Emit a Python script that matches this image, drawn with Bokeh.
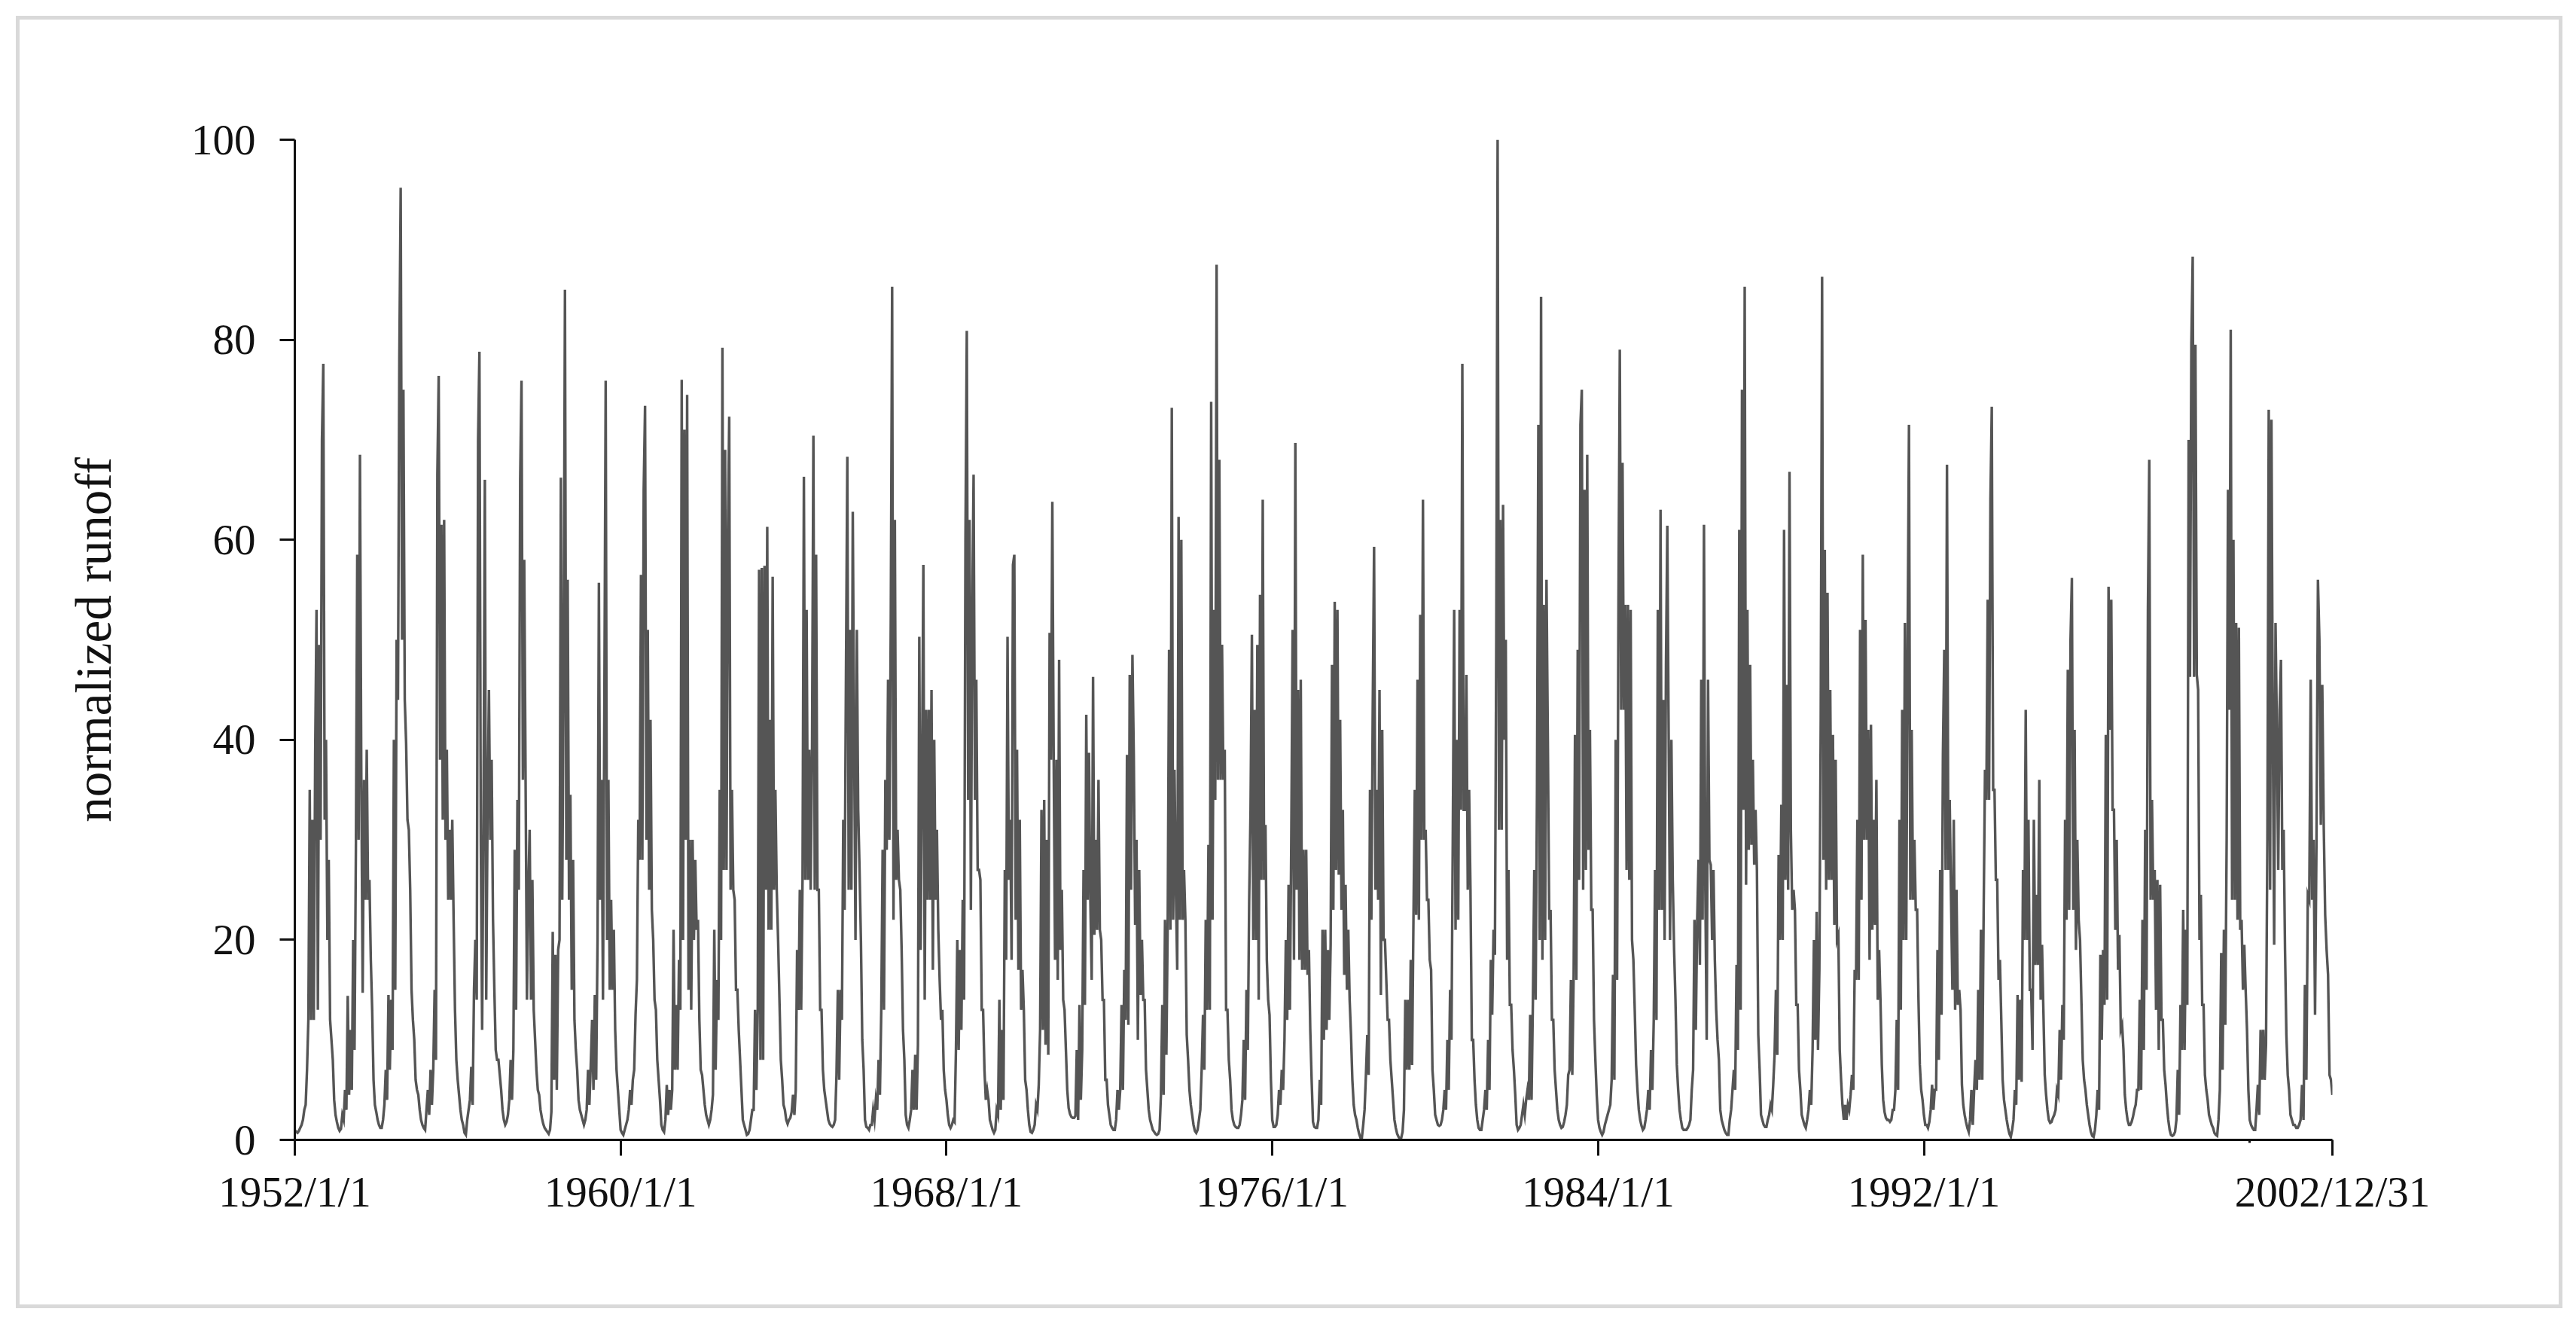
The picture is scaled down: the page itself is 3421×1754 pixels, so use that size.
from bokeh.embed import file_html
from bokeh.resources import INLINE
from bokeh.plotting import figure
from bokeh.models import Range1d, FixedTicker

Y_LABEL = "normalized runoff"
Y_TICKS = [0, 20, 40, 60, 80, 100]
X_TICK_LABELS = {1952: "1952/1/1", 1960: "1960/1/1", 1968: "1968/1/1", 1976: "1976/1/1",
                 1984: "1984/1/1", 1992: "1992/1/1", 2002.03: "2002/12/31"}
X_MINOR = [2000]
X_END = 2002.03

r1952 = [1.0,0.8,0.7,0.9,1.2,1.5,2,3,3.5,7,12,35,12,32,12,38.5,53,13,49.5,30,70,77.6,32,40,20,28,12,10,8,4]
r1953 = [2.5,1.8,1.2,0.9,1.1,2.5,2,5,3,14.4,4.5,11,5,20,9,29,58.5,30,68.5,36,14.7,36,24,39,24,26,18,13,6,3.5]
r1954 = [2.8,2,1.5,1.2,1.2,2,3.5,7,4,14.5,7,14,9,40,15,50,44,78.2,95.2,50,75,44,39.7,32,31,25,15,12,10,6]
r1955 = [5,4.5,3,2,1.5,1.2,1,3,5,2.5,7,3.5,7,15,8,66.5,76.4,38,61.5,32,62,30,39,24,31,24,32,22,13,8]
r1956 = [6,4.5,3,2,1.5,0.7,0.5,2,3,4,7.3,3.5,15,20,14,70,78.8,30,11,33,66,14,33,45,30,38,22,15,9,8]
r1957 = [8,6.5,5,3,2,1.5,1.8,2.5,4,8,4,9,29,13,34,25,66,75.9,36,58,36,14,25,31,14,26,13,10,7,5]
r1958 = [4.5,3,2.2,1.6,1.2,1,0.8,0.6,1,2.8,20.8,6,18.5,5,19,20,66.2,24,46,85,28,56,24,34.5,15,28,12,9,7,4]
r1959 = [3,2.5,2,1.5,2,3,7,3.5,7.5,12,5,14.5,6,20,55.7,24,36,14,43,75.9,20,36,15,24,15,21,11,7,5,3]
r1960 = [1,0.7,0.5,1,1.5,2,3,5,3.5,6,7,12.5,16,32,28,56.5,28,65,73.4,30,51,25,42,23,20,14,13,8,6,4]
r1961 = [1.5,1,0.8,2,5.5,2.5,5,3,5,21,7,13.5,7,18,13,76,20,71,30,74.5,15,30,13,30,20,28,21,22,12,7]
r1962 = [6.5,5,3.5,2.5,2,1.5,2,3,4.5,21,7,16,12,35,20,79.2,27,69,27,60,72.3,25,35,25,24,15,15,11,8,5]
r1963 = [2,1.5,1,0.5,0.6,1,2,3,3,13,5,13,57,8,57.2,8,57.4,25,61.3,21,42,21,56.3,25,35,25,20,14,8,6]
r1964 = [3.5,3,2,1.6,2,2.2,2.8,4.5,2.5,5,19,13,25,13,26,66.3,26,53,26,39,25,39,70.4,25,58.5,25,25,13,13,7]
r1965 = [5,4,3,2,1.6,1.4,1.3,1.5,2,6.5,15,6,15,12,32,23,47,68.3,25,51,25,62.8,40,20,51,33,27,20,10,7]
r1966 = [2,1.3,1.2,1,1.5,1.5,3,2,4,3,8,4.5,13,29,13,36,29,46,30,52,85.3,22,62,26,31,26,25,19,11,8]
r1967 = [2.5,1.5,1.2,2,3,7,3,8.5,3,9.5,50.3,19,36,57.5,14,43,24,43,24,45,17,40,24,31,21,16,12,13,7,5]
r1968 = [4,2.5,1.5,1.2,1.5,2,1.8,9,20,9,19,11,24,14,60,80.9,34,62,23,53,66.5,34,46,27,27,26,13,13,7,4]
r1969 = [5,4,2,1.5,1,0.7,1,3,2.5,14,3,11,4,27,18,50.3,26,32,18,57.5,58.5,22,39,17,32,13,17,13,6,5]
r1970 = [3,1.5,0.8,0.7,1,1.5,3.5,3,5.5,11,33,11,34,9.5,30,8.5,50.7,38,63.8,38,18,38,16,48,19,25,14,13,9,5]
r1971 = [3.2,2.6,2.3,2.2,2.2,2.4,9,2,13.5,4,9,27,13.5,42.5,24,38.7,24,16,46.3,20.5,30,21,36,21,20,14,14,6,6,3.5]
r1972 = [2.5,1.5,1.2,1,1,2,5,3,5,13.5,5,17,12,38.5,11.5,46.5,25,48.5,38.5,21.5,30,10,27,14.5,20,14,14,7,5,3]
r1973 = [2,1.5,1,0.8,0.6,0.5,0.6,1,4.5,13.5,4.5,22,8.5,22,49,21,73.2,22,37,25,17,62.3,22,60,22,27,22,10.5,8,5]
r1974 = [3.5,2.5,1.5,0.9,0.7,1,2,3,7,12.5,7,22,13,29.5,13,73.8,22,53,34,87.5,36,68,36,49.5,36,39,13,13,8,6]
r1975 = [3,2,1.5,1.3,1.2,1.2,1.5,2.5,4,10,4,15,9,24,33,50.5,20,43,20,49.5,14,54.5,26,64,26,31.5,18,14,12.5,6]
r1976 = [2,1.3,1.3,1.5,2.5,5,3.5,7,5,10,20,12,25.5,13,30,51,18,69.7,25,45,18,46,17,29,17,29,16.5,19,11,6]
r1977 = [1.8,1.3,1.2,1.2,2,6,3.5,21,10,21,11,19,12,19.5,47.5,23,53.8,27,53,26.5,42,23,33,16.5,25.5,15,21,14,10.5,6]
r1978 = [3.5,2.5,2,1.2,0.6,0.2,0.2,1.5,3,6.5,10.5,6.5,35,22,43,59.3,25,35,24,45,14.5,41,20,20,16,12,12,8,6,4]
r1979 = [2,1.2,0.6,0.3,0.1,0.2,0.8,3,14,7,14,7,18,7.5,22,35,22.5,46,22,52.5,30,64,30,31,24,24,18,17,7,5]
r1980 = [2.5,2,1.5,1.4,1.5,2,3,5,3,10,5,15,10,31,53,21,40,22,53,33,77.6,33,33,46.5,25,35,25,10,10,6]
r1981 = [3.5,2,1.2,1,1,2,3,5,3,10,5,18,12.5,21,18.5,50,100,31,62,31,63.5,40,50,18,27,13.5,13.5,9,7,4.5]
r1982 = [1.5,1,1.2,1.5,2.5,3.5,2.5,4,5,4,12.5,4,14,27,14,35,71.5,20,84.3,18,53.5,20,56,40,22,23,12,12,7,5]
r1983 = [3,2,1.5,1.2,1.3,1.8,2.5,3.5,6.5,7,16,6.5,16.5,40.5,16,49,26,71.5,75,25,65,27,68.5,29,41,23,23,12,8,4.5]
r1984 = [2,1.2,0.8,0.5,0.8,1.5,2,2.5,3,3.5,6,16.5,6,40,16,53.5,79,43,67.7,43,53.5,27,53.5,26,53,20,18,13,7.5,5]
r1985 = [3,2,1.4,1,1.2,2,3,5,3,9,5,12,27,12,53,23,63,23,44,20,47.5,61.4,40,20,40,26,19,14,7.5,5]
r1986 = [3,2,1.2,1,1,1,1.2,1.5,2,5,7,22,11,22,28,17.5,46,22,61.5,25,10,46,28,27.5,20,27,18,13,10,8]
r1987 = [3,2,1.5,1,0.7,0.5,0.5,2,3,5,7,5,17.5,9,61,13,75,33,85.3,25.5,53,29,47.5,29.5,38,27.5,33,27,10.5,7]
r1988 = [2.5,2,1.5,1.3,1.3,2,2.5,3.5,3,5.5,8.5,15,8.5,28.5,20,33.5,20,61,26,45.5,25,66.8,31,23,25,23,13.5,13.5,7,5]
r1989 = [2.5,2,1.5,1.2,2,3,5,3.5,9,20,10,22.8,9,17,42,86.3,28,59,25,54.7,26,45,26,40.5,21.5,38,20,20.5,9,6]
r1990 = [3.5,2,3.5,2,3.5,3,4.5,6.5,5,17,16,32,16,51,24,58.5,30,52,30,41,18,41.5,21,32,21.5,36,14,19,14,7.5]
r1991 = [4,2.8,2.2,2,2,1.8,2,3,3,5,12,5,32,13,43,20,51.7,20,49.5,71.5,24,41,24,30,23,23,14,7.5,5,4]
r1992 = [2.5,1.5,1.5,1.2,1.8,3,5.5,3,5,5,19,8,27,12.5,38.5,49,27,67.5,27,34,24,15,32,13,25,13.5,15,13,5.5,3.5]
r1993 = [2.5,1.8,1.2,0.8,2,5,1.5,5,8,5,15,6,21,6,22.5,37,34,54,34,64,73.3,35,35,26,26,16,18,12,6,4]
r1994 = [3,2,1.2,0.6,0.3,1,2,5,3.5,14.5,6,14,5.8,27,20,43,20,32,15,15,9,32,17.5,24.5,17.5,36,14,19.5,13,6.5]
r1995 = [4.5,3,2,1.7,1.8,2.2,2.5,3,5,4.5,11,6,13.5,10,32,22,47,23,50,56.2,23,41,19,30,22,20,14,8,6,5]
r1996 = [3.5,2.5,1.5,0.8,0.4,0.3,1,2.5,5,3,18.5,10,19,13.5,40.5,14,55.3,41,54,33,33,21,30,17,20.5,11,11.5,9,4.5,3]
r1997 = [2,1.5,1.5,1.8,2.3,3,3.5,5,5,14,5,22,9,31,15,53,68,24,34,24,27,13,26,9,25.5,12,12,7,5.5,3.5]
r1998 = [2,1,0.5,0.4,0.5,0.8,2,7,2.5,13.5,9,23,9,21,13.5,70,46.3,79.5,88.3,46.3,79.5,46.5,45,20,24.5,13.5,13.5,6.5,5,4]
r1999 = [2.5,2,1.5,1.2,0.7,0.5,0.4,2,5,18.7,7,21,11.5,30,65,43,81,24,60,24,51.7,22,51.2,21,22,15,19.5,15,11,5]
r2000 = [2,1.5,1.2,1,1,3,5.5,2.5,11,6,11,6,9.5,30,73,25,72,41,19.5,51.7,41,27,43,48,27,31,19,10.5,6.5,5]
r2001 = [2.5,2,1.5,1.5,1.2,1.2,1.5,2,5.5,2,15.5,6,24.5,24,46,24,30,12.5,30,56,50,31.5,45.5,31.5,22.5,19,16.5,6.5,6,4.5]

YEARS = list(range(1952, 2002))
SERIES = [r1952, r1953, r1954, r1955, r1956, r1957, r1958, r1959, r1960, r1961,
          r1962, r1963, r1964, r1965, r1966, r1967, r1968, r1969, r1970, r1971,
          r1972, r1973, r1974, r1975, r1976, r1977, r1978, r1979, r1980, r1981,
          r1982, r1983, r1984, r1985, r1986, r1987, r1988, r1989, r1990, r1991,
          r1992, r1993, r1994, r1995, r1996, r1997, r1998, r1999, r2000, r2001]

xs, ys = [], []
for yr, vals in zip(YEARS, SERIES):
    n = len(vals)
    for i, v in enumerate(vals):
        if yr == YEARS[-1]:
            xs.append(yr + (X_END - yr) * i / (n - 1))
        else:
            xs.append(yr + i / n)
        ys.append(v)

p = figure(width=3372, height=1706, output_backend="svg", toolbar_location=None,
           x_range=Range1d(1952, X_END), y_range=Range1d(0, 100),
           min_border_left=365, min_border_right=301, min_border_top=159, min_border_bottom=219,
           background_fill_color="white", border_fill_color="white")
p.outline_line_color = None
p.grid.visible = False
p.styles = {"margin-left": "26px", "margin-top": "26px", "outline": "5px solid #d9d9d9"}

p.line(xs, ys, line_color="#555555", line_width=3.4, line_join="miter")

xa = p.xaxis[0]
xa.ticker = FixedTicker(ticks=sorted(X_TICK_LABELS), minor_ticks=X_MINOR)
xa.major_label_overrides = X_TICK_LABELS
xa.major_tick_out = 21
xa.major_tick_in = 0
xa.minor_tick_out = 4
xa.minor_tick_in = 0
xa.major_label_standoff = 16
xa.major_label_orientation = "horizontal"

ya = p.yaxis[0]
ya.ticker = FixedTicker(ticks=Y_TICKS)
ya.major_tick_out = 20
ya.major_tick_in = 0
ya.minor_tick_out = 0
ya.minor_tick_in = 0
ya.major_label_standoff = 32
ya.axis_label = Y_LABEL
ya.axis_label_text_font = "Liberation Serif"
ya.axis_label_text_font_size = "67px"
ya.axis_label_text_font_style = "normal"
ya.axis_label_text_color = "#111111"
ya.axis_label_standoff = 90

for ax in (xa, ya):
    ax.axis_line_color = "#111111"
    ax.axis_line_width = 3
    ax.major_tick_line_color = "#111111"
    ax.major_tick_line_width = 3
    ax.minor_tick_line_color = "#111111"
    ax.minor_tick_line_width = 3
    ax.major_label_text_font = "Liberation Serif"
    ax.major_label_text_font_size = "57px"
    ax.major_label_text_color = "#111111"

open("out.html", "w").write(file_html(p, INLINE))
